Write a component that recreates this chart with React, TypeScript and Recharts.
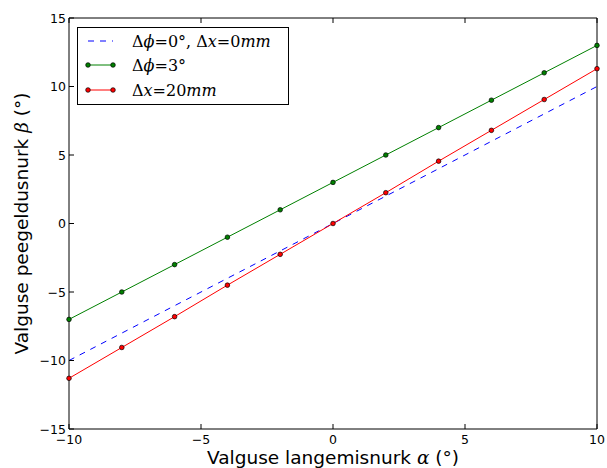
import { LineChart, Line, XAxis, YAxis } from 'recharts'

// angle of incidence (x) and the three reflection-angle series
const alpha = [-10, -8, -6, -4, -2, 0, 2, 4, 6, 8, 10]
const betaIdeal = [-10, -8, -6, -4, -2, 0, 2, 4, 6, 8, 10]
const betaPhi3 = [-7, -5, -3, -1, 1, 3, 5, 7, 9, 11, 13]
const betaX20 = [-11.3, -9.05, -6.8, -4.5, -2.25, 0, 2.25, 4.55, 6.8, 9.05, 11.3]

const xTicks = [-10, -5, 0, 5, 10]
const yTicks = [-15, -10, -5, 0, 5, 10, 15]

const data = alpha.map((a, i) => ({
  a,
  ideal: betaIdeal[i],
  phi: betaPhi3[i],
  dx: betaX20[i],
}))

const FONT = '"DejaVu Sans", sans-serif'
const MATH = '"DejaVu Serif", serif'
const fmt = (v: number) => String(v).replace('-', '\u2212')

// tick lines point inward (matplotlib style): negative tickSize, margin brings labels back to the axis
const inTick = { tickSize: -5, tickMargin: 5, tickLine: { stroke: '#000', strokeWidth: 1 } }

function BottomTick({ x, y, payload }: any) {
  return (
    <text x={x} y={y + 15} textAnchor="middle" fontSize={12.5} fontFamily={FONT} fill="#000">
      {fmt(payload.value)}
    </text>
  )
}

function LeftTick({ x, y, payload }: any) {
  return (
    <text x={x - 3} y={y + 4.5} textAnchor="end" fontSize={12.5} fontFamily={FONT} fill="#000">
      {fmt(payload.value)}
    </text>
  )
}

function NoLabel() {
  return <g />
}

function Marker({ cx, cy, fill }: any) {
  return <circle cx={cx} cy={cy} r={2.3} fill={fill} stroke="#000" strokeWidth={0.7} />
}

function XLabel({ viewBox }: any) {
  const cx = viewBox.x + viewBox.width / 2
  return (
    <text x={cx} y={464} textAnchor="middle" fontSize={18.5} fontFamily={FONT} fill="#000">
      Valguse langemisnurk <tspan fontFamily={MATH} fontStyle="italic">α</tspan> (°)
    </text>
  )
}

function YLabel({ viewBox }: any) {
  const cy = viewBox.y + viewBox.height / 2
  return (
    <text x={28} y={cy} transform={`rotate(-90, 28, ${cy})`} textAnchor="middle" fontSize={18.5} fontFamily={FONT} fill="#000">
      Valguse peegeldusnurk <tspan fontFamily={MATH} fontStyle="italic">β</tspan> (°)
    </text>
  )
}

const legendRows = [
  { color: '#0000ff', dashed: true, marker: false, text: [['Δ', ''], ['ϕ', 'i'], ['=0°, Δ', ''], ['x', 'i'], ['=0', ''], ['mm', 'i']] },
  { color: '#008000', dashed: false, marker: true, text: [['Δ', ''], ['ϕ', 'i'], ['=3°', '']] },
  { color: '#ff0000', dashed: false, marker: true, text: [['Δ', ''], ['x', 'i'], ['=20', ''], ['mm', 'i']] },
]

function Legend() {
  const rowY = [41, 65, 90]
  return (
    <svg width={607} height={468} style={{ position: 'absolute', left: 0, top: 0, pointerEvents: 'none' }}>
      <rect x={77.5} y={27.5} width={211} height={77} fill="#fff" stroke="#000" strokeWidth={1} />
      {legendRows.map((r, i) => (
        <g key={i}>
          <line x1={88} x2={113} y1={rowY[i]} y2={rowY[i]} stroke={r.color} strokeWidth={1} strokeDasharray={r.dashed ? '6 6' : undefined} />
          {r.marker && <circle cx={88} cy={rowY[i]} r={2.3} fill={r.color} stroke="#000" strokeWidth={0.7} />}
          {r.marker && <circle cx={113} cy={rowY[i]} r={2.3} fill={r.color} stroke="#000" strokeWidth={0.7} />}
          <text x={132} y={rowY[i] + 5.5} fontSize={16} fontFamily={MATH} fill="#000">
            {r.text.map(([t, s], j) => (
              <tspan key={j} fontStyle={s === 'i' ? 'italic' : 'normal'}>{t}</tspan>
            ))}
          </text>
        </g>
      ))}
    </svg>
  )
}

export default function App() {
  return (
    <div style={{ position: 'absolute', left: 0, top: 0, width: 607, height: 468, background: '#fff' }}>
      <LineChart width={607} height={468} data={data} margin={{ top: 17, right: 9, bottom: 0, left: 9 }}>
        <XAxis
          dataKey="a"
          type="number"
          domain={[-10, 10]}
          ticks={xTicks}
          interval={0}
          height={39}
          {...inTick}
          tick={<BottomTick />}
          axisLine={{ stroke: '#000' }}
          label={<XLabel />}
        />
        <XAxis
          xAxisId="top"
          orientation="top"
          dataKey="a"
          type="number"
          domain={[-10, 10]}
          ticks={xTicks}
          interval={0}
          height={1}
          {...inTick}
          tick={<NoLabel />}
          axisLine={{ stroke: '#000' }}
        />
        <YAxis
          type="number"
          domain={[-15, 15]}
          ticks={yTicks}
          interval={0}
          width={60}
          {...inTick}
          tick={<LeftTick />}
          axisLine={{ stroke: '#000' }}
          label={<YLabel />}
        />
        <YAxis
          yAxisId="right"
          orientation="right"
          type="number"
          domain={[-15, 15]}
          ticks={yTicks}
          interval={0}
          width={1}
          {...inTick}
          tick={<NoLabel />}
          axisLine={{ stroke: '#000' }}
        />
        <Line dataKey="ideal" stroke="#0000ff" strokeWidth={1} strokeDasharray="6 6" dot={false} activeDot={false} isAnimationActive={false} />
        <Line dataKey="phi" stroke="#008000" strokeWidth={1} dot={<Marker fill="#008000" />} activeDot={false} isAnimationActive={false} />
        <Line dataKey="dx" stroke="#ff0000" strokeWidth={1} dot={<Marker fill="#ff0000" />} activeDot={false} isAnimationActive={false} />
      </LineChart>
      <Legend />
    </div>
  )
}
